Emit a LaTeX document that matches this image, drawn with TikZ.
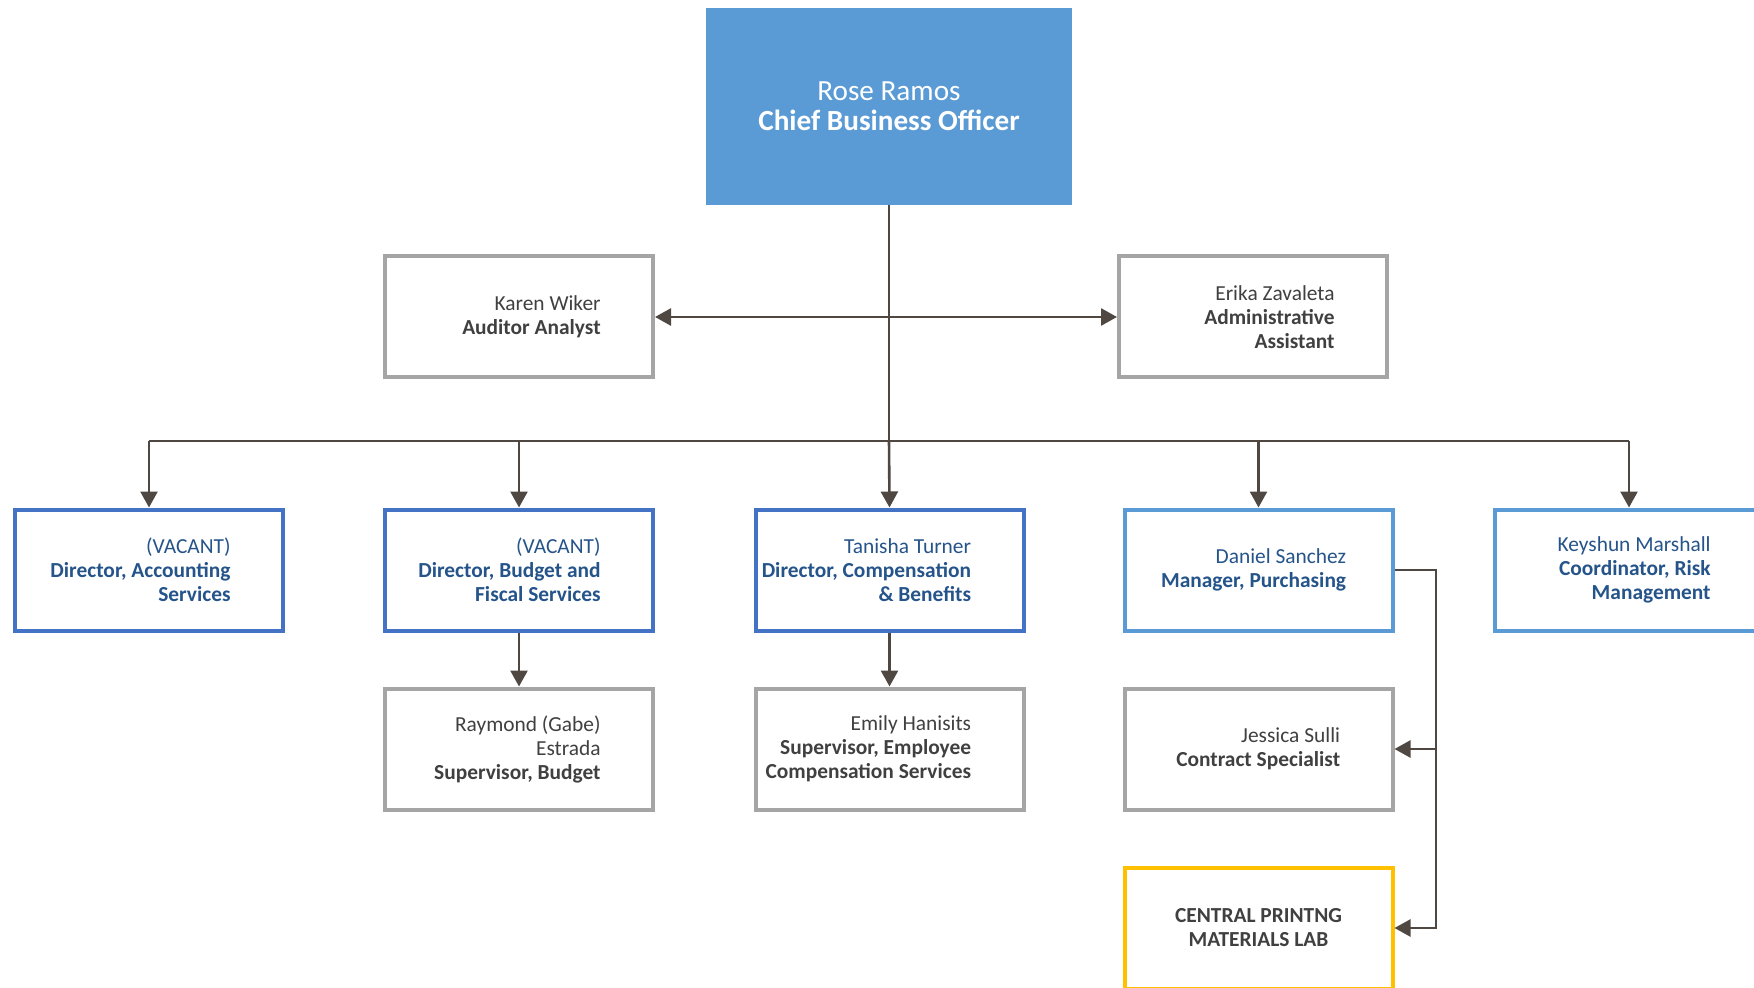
\documentclass[tikz,border=0pt]{standalone}
\usepackage{fontspec}
\setmainfont{Carlito}
\usepackage{tikz}
\usetikzlibrary{arrows.meta}
\definecolor{linecol}{RGB}{78,71,66}
\definecolor{grayline}{RGB}{165,165,165}
\definecolor{darkblue}{RGB}{68,114,196}
\definecolor{lightblue}{RGB}{91,155,213}
\definecolor{goldline}{RGB}{255,192,0}
\definecolor{bluetext}{RGB}{37,84,138}
\definecolor{graytext}{RGB}{64,64,64}
\tikzset{
  font={\fontsize{10.7pt}{12pt}\selectfont},
  box/.style={draw, line width=2pt, fill=white, minimum width=134pt, minimum height=60.5pt},
  graybox/.style={box, draw=grayline},
  dirbox/.style={box, draw=darkblue},
  mgrbox/.style={box, draw=lightblue},
  labbox/.style={box, draw=goldline},
  graytxt/.style={text=graytext, align=right, anchor=east},
  bluetxt/.style={text=bluetext, align=right, anchor=east},
  conn/.style={draw=linecol, line width=1.3pt},
  >={Triangle[length=8pt,width=8.5pt]}}

\begin{document}
\begin{tikzpicture}[x=0.5pt,y=-0.5pt]
\tikzstyle{every node}+=[inner sep=0pt]
\path [use as bounding box] (0,0) rectangle (1754,988);
\clip (0,0) rectangle (1754,988);
\node [fill=lightblue, minimum width=183pt, minimum height=98.5pt] (cbo) at (889,106.5) {};
\node [text=white, align=center, font={\fontsize{14.6pt}{15pt}\selectfont}] (cbo-t) at (cbo) {Rose Ramos\\\textbf{Chief Business Officer}};
\node [graybox] (auditor) at (519,317) {};
\node [graytxt] (auditor-t) at ([xshift=-27pt]auditor.east) {Karen Wiker\\\textbf{Auditor Analyst}};
\node [graybox] (admin) at (1253,317) {};
\node [graytxt] (admin-t) at ([xshift=-27pt]admin.east) {Erika Zavaleta\\\textbf{Administrative}\\\textbf{Assistant}};
\node [dirbox] (acct) at (149,570) {};
\node [bluetxt] (acct-t) at ([xshift=-27pt]acct.east) {(VACANT)\\\textbf{Director, Accounting}\\\textbf{Services}};
\node [dirbox] (budget) at (519,570) {};
\node [bluetxt] (budget-t) at ([xshift=-27pt]budget.east) {(VACANT)\\\textbf{Director, Budget and}\\\textbf{Fiscal Services}};
\node [dirbox] (comp) at (889.5,570) {};
\node [bluetxt] (comp-t) at ([xshift=-27pt]comp.east) {Tanisha Turner\\\textbf{Director, Compensation}\\\textbf{\& Benefits}};
\node [mgrbox] (purch) at (1258.5,570) {};
\node [bluetxt] (purch-t) at ([xshift=-24pt]purch.east) {Daniel Sanchez\\\textbf{Manager, Purchasing}};
\node [mgrbox] (risk) at (1629,570) {};
\node [bluetxt] (risk-t) at ([xshift=-27pt]risk.east) {Keyshun Marshall\\\textbf{Coordinator, Risk}\\\textbf{Management}};
\node [graybox] (supbudget) at (519,749) {};
\node [graytxt] (supbudget-t) at ([xshift=-27pt]supbudget.east) {Raymond (Gabe)\\Estrada\\\textbf{Supervisor, Budget}};
\node [graybox] (supcomp) at (889.5,749) {};
\node [graytxt] (supcomp-t) at ([xshift=-27pt]supcomp.east) {Emily Hanisits\\\textbf{Supervisor, Employee}\\\textbf{Compensation Services}};
\node [graybox] (contract) at (1258.5,749) {};
\node [graytxt] (contract-t) at ([xshift=-27pt]contract.east) {Jessica Sulli\\\textbf{Contract Specialist}};
\node [labbox] (print) at (1258.5,928) {};
\node [text=graytext, align=center] (print-t) at (print) {\textbf{CENTRAL PRINTNG}\\\textbf{MATERIALS LAB}};
\coordinate (bus) at (889,441);
\coordinate (side) at (1436,570);
\draw [conn] (cbo.south) -- (bus);
\draw [conn, <->] (auditor.east) -- (admin.west);
\draw [conn] (acct.north |- bus) -- (risk.north |- bus);
\draw [conn, ->] (acct.north |- bus) -- (acct.north);
\draw [conn, ->] (budget.north |- bus) -- (budget.north);
\draw [conn, ->] (bus) -- (comp.north);
\draw [conn, ->] (purch.north |- bus) -- (purch.north);
\draw [conn, ->] (risk.north |- bus) -- (risk.north);
\draw [conn, ->] (budget.south) -- (supbudget.north);
\draw [conn, ->] (comp.south) -- (supcomp.north);
\draw [conn, ->] (purch.east) -- (side) |- (print.east);
\draw [conn, ->] (side |- contract.east) -- (contract.east);
\end{tikzpicture}
\end{document}
